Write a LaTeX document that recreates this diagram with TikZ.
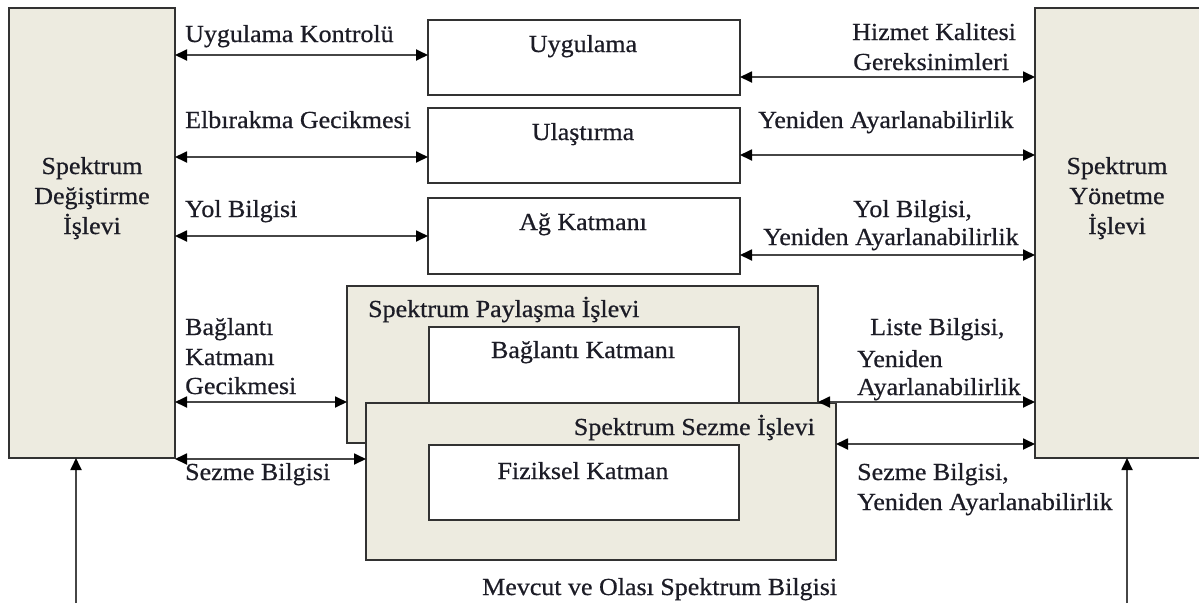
\documentclass[tikz,border=0pt]{standalone}
\usepackage{fontspec}
\setmainfont{Liberation Serif}[FakeStretch=1.06,FakeBold=0.6]
\usetikzlibrary{arrows.meta}
\definecolor{panel}{RGB}{237,235,224}
\definecolor{edge}{RGB}{50,50,50}
\definecolor{wire}{RGB}{70,70,70}
\definecolor{ink}{RGB}{28,28,38}
\begin{document}
\begin{tikzpicture}[x=1pt,y=-1pt,
  frame/.style={draw=edge,line width=2.2pt,anchor=north west,inner sep=0pt,outer sep=0pt},
  txt/.style={inner sep=0pt,text=ink,font=\fontsize{24.5}{29}\selectfont},
  lbl/.style={txt,anchor=base west},
  clbl/.style={txt,anchor=base},
  rlbl/.style={txt,anchor=base east},
  biarrow/.style={draw=wire,line width=1.8pt,{Triangle[length=12pt,width=11pt,color=black]}-{Triangle[length=12pt,width=11pt,color=black]}},
  uparrow/.style={draw=wire,line width=1.8pt,-{Triangle[length=12pt,width=11pt,color=black]}}]
\clip (0,0) rectangle (1199,603);
\useasboundingbox (0,0) rectangle (1199,603);

% side function blocks
\node[frame,fill=panel,minimum width=166pt,minimum height=450pt] (sdi) at (9,8) {};
\node[frame,fill=panel,minimum width=200pt,minimum height=450pt] (syi) at (1035,8) {};

% protocol layers
\node[frame,fill=white,minimum width=312pt,minimum height=75pt] (app) at (428,20) {};
\node[frame,fill=white,minimum width=312pt,minimum height=75pt] (trn) at (428,108) {};
\node[frame,fill=white,minimum width=312pt,minimum height=76pt] (net) at (428,198) {};
\node[frame,fill=panel,minimum width=471pt,minimum height=157pt] (spi) at (347,286) {};
\node[frame,fill=white,minimum width=310pt,minimum height=100pt] (lnk) at (429,327) {};
\node[frame,fill=panel,minimum width=470pt,minimum height=157pt] (ssi) at (366,403) {};
\node[frame,fill=white,minimum width=310pt,minimum height=75pt] (phy) at (429,445) {};

% block titles
\node[clbl] (sdi1) at (92,174) {Spektrum};
\node[clbl] (sdi2) at (92,204) {Değiştirme};
\node[clbl] (sdi3) at (92,234) {İşlevi};
\node[clbl] (syi1) at (1117,174) {Spektrum};
\node[clbl] (syi2) at (1117,204) {Yönetme};
\node[clbl] (syi3) at (1117,234) {İşlevi};
\node[clbl] (appt) at (583,52) {Uygulama};
\node[clbl] (trnt) at (583,140) {Ulaştırma};
\node[clbl] (nett) at (583,230) {Ağ Katmanı};
\node[lbl] (spit) at (368,317) {Spektrum Paylaşma İşlevi};
\node[clbl] (lnkt) at (583,358) {Bağlantı Katmanı};
\node[rlbl] (ssit) at (815,435) {Spektrum Sezme İşlevi};
\node[clbl] (phyt) at (583,479) {Fiziksel Katman};

% links to the spectrum decision block
\draw[biarrow] (sdi.east |- 0,55) -- (app.west |- 0,55);
\draw[biarrow] (sdi.east |- 0,157) -- (trn.west |- 0,157);
\draw[biarrow] (sdi.east |- 0,236) -- (net.west |- 0,236);
\draw[biarrow] (sdi.east |- 0,402) -- (spi.west |- 0,402);
\draw[biarrow] (sdi.east |- 0,459) -- (ssi.west |- 0,459);
\node[lbl] (l1) at (185,42) {Uygulama Kontrolü};
\node[lbl] (l2) at (185,128) {Elbırakma Gecikmesi};
\node[lbl] (l3) at (185,217) {Yol Bilgisi};
\node[lbl] (l4a) at (185,335) {Bağlantı};
\node[lbl] (l4b) at (185,365) {Katmanı};
\node[lbl] (l4c) at (185,394) {Gecikmesi};
\node[lbl] (l5) at (185,480) {Sezme Bilgisi};

% links to the spectrum management block
\draw[biarrow] (app.east |- 0,77) -- (syi.west |- 0,77);
\draw[biarrow] (trn.east |- 0,155) -- (syi.west |- 0,155);
\draw[biarrow] (net.east |- 0,255) -- (syi.west |- 0,255);
\draw[biarrow] (spi.east |- 0,402) -- (syi.west |- 0,402);
\draw[biarrow] (ssi.east |- 0,444) -- (syi.west |- 0,444);
\node[lbl] (r1a) at (852,40) {Hizmet Kalitesi};
\node[lbl] (r1b) at (853,70) {Gereksinimleri};
\node[lbl] (r2) at (758,128) {Yeniden Ayarlanabilirlik};
\node[lbl] (r3a) at (853,217) {Yol Bilgisi,};
\node[lbl] (r3b) at (763,245) {Yeniden Ayarlanabilirlik};
\node[lbl] (r4a) at (870,335) {Liste Bilgisi,};
\node[lbl] (r4b) at (857,367) {Yeniden};
\node[lbl] (r4c) at (857,395) {Ayarlanabilirlik};
\node[lbl] (r5a) at (857,480) {Sezme Bilgisi,};
\node[lbl] (r5b) at (857,510) {Yeniden Ayarlanabilirlik};

% spectrum information feeding both blocks
\coordinate (lb) at (76,603);
\coordinate (rb) at (1127,603);
\draw[uparrow] (lb) -- (lb |- sdi.south);
\draw[uparrow] (rb) -- (rb |- syi.south);
\node[lbl] (bot) at (482,595) {Mevcut ve Olası Spektrum Bilgisi};
\end{tikzpicture}
\end{document}
